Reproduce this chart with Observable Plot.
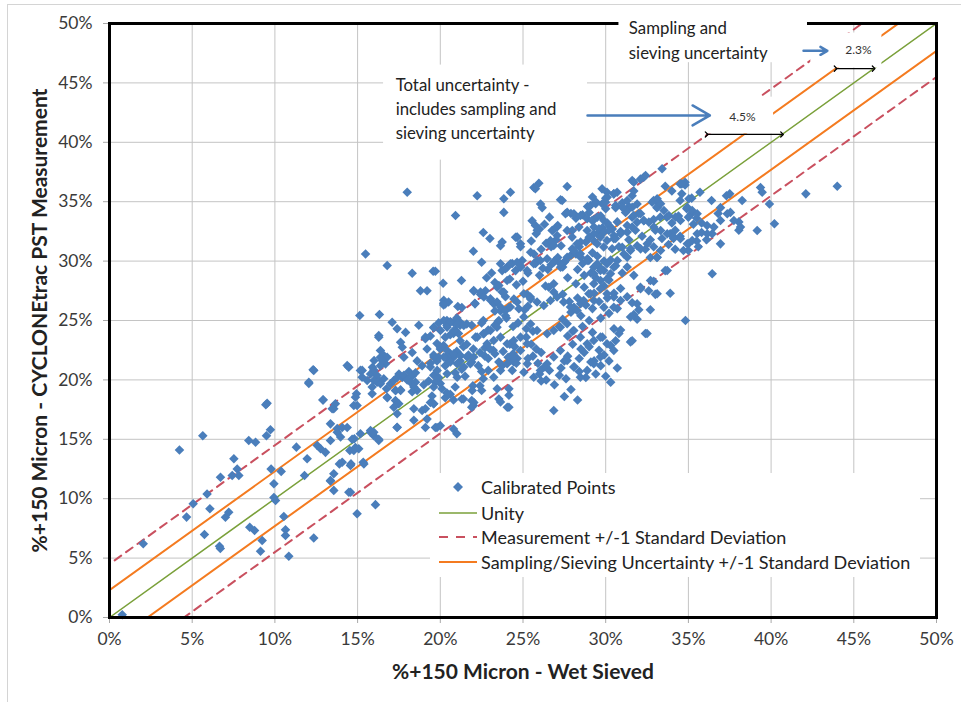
<!DOCTYPE html>
<html><head><meta charset="utf-8">
<script src="https://cdn.jsdelivr.net/npm/d3@7"></script>
<script src="https://cdn.jsdelivr.net/npm/@observablehq/plot@0.6"></script>
<style>
html,body{margin:0;padding:0;background:#fff;}
#wrap{position:relative;width:961px;height:702px;background:#fff;font-family:Lato,sans-serif;overflow:hidden;}
#border{position:absolute;left:7px;top:4px;right:-2px;bottom:-2px;border-left:1px solid #d4d4d4;border-top:1px solid #d4d4d4;pointer-events:none;z-index:3;}
#legend{position:absolute;left:430px;top:473px;width:490px;height:104px;background:#fff;z-index:2;}
.lrow{position:absolute;left:0;height:24px;width:490px;}
.lrow svg{position:absolute;left:8px;top:0;}
.lrow span{position:absolute;left:51px;top:0px;font-size:18px;color:#222;line-height:24px;white-space:nowrap;}
</style></head>
<body><div id="wrap"><div id="border"></div><div id="chart"></div>
<div id="legend">
 <div class="lrow" style="top:2px"><svg width="40" height="24"><path d="M20,7L25,12L20,17L15,12Z" fill="#4A7EBB"/></svg><span>Calibrated Points</span></div>
 <div class="lrow" style="top:28px"><svg width="40" height="24"><line x1="1" x2="39" y1="12" y2="12" stroke="#7AA03A" stroke-width="1.6"/></svg><span>Unity</span></div>
 <div class="lrow" style="top:52px"><svg width="40" height="24"><line x1="1" x2="39" y1="12" y2="12" stroke="#C9505F" stroke-width="2" stroke-dasharray="9,8"/></svg><span>Measurement +/-1 Standard Deviation</span></div>
 <div class="lrow" style="top:77px"><svg width="40" height="24"><line x1="1" x2="39" y1="12" y2="12" stroke="#F47B20" stroke-width="2"/></svg><span>Sampling/Sieving Uncertainty +/-1 Standard Deviation</span></div>
</div>
</div>
<script>
// ---- data ----
const axisTicks = [0,5,10,15,20,25,30,35,40,45,50];
const measurementSD = 4.5;   // %
const samplingSD = 2.3;      // %
const xTitle = "%+150 Micron - Wet Sieved";
const yTitle = "%+150 Micron - CYCLONEtrac PST Measurement";

// [wet sieved %, CYCLONEtrac %]
const calibratedPoints = [
[0.77,0.23],[2.04,6.2],[4.23,14.1],[5.64,15.3],[4.66,8.45],[5.06,9.57],[5.9,10.4],[6.07,9.15],[5.74,6.99],[6.65,6.0],[6.7,5.8],[6.71,11.8],[7.52,13.36],[7.72,12.5],[7.42,11.95],[7.82,11.95],[7.01,8.44],[7.21,8.86],[8.42,14.9],[8.83,14.76],[9.53,18.04],[9.45,17.9],[9.49,15.3],[9.73,15.8],[8.48,7.6],[8.77,7.32],[9.23,6.48],[9.13,5.58],[9.77,12.5],[9.94,11.25],[9.94,10.1],[10.04,9.85],[10.38,12.3],[10.54,8.5],[10.64,7.38],[10.64,6.9],[10.84,5.16],[11.3,14.34],[11.95,13.36],[11.79,11.95],[12.35,6.7],[12.05,19.7],[12.9,18.3],[12.35,20.8],[12.56,14.48],[12.76,14.2],[13.06,13.9],[13.56,17.57],[13.66,18.0],[13.36,16.3],[13.77,15.9],[13.36,14.9],[13.36,11.5],[13.56,10.7],
[14.07,16.0],[14.37,16.0],[13.77,15.6],[13.97,15.2],[14.47,21.07],[14.77,17.85],[14.53,14.06],[14.77,14.06],[15.07,14.2],[14.07,13.07],[14.57,12.8],[14.47,10.55],[14.97,8.73],[14.8,15.04],[15.34,13.07],[14.93,18.83],[15.28,20.8],[15.78,20.5],[15.58,19.95],[15.88,18.83],[15.78,15.6],[15.98,15.3],[16.28,14.9],[16.08,9.5],[16.38,21.9],[16.69,21.35],[16.18,20.1],[16.58,20.1],[16.79,18.54],[14.37,21.21],[15.17,20.8],[15.27,20.23],[12.31,20.85],[12.05,19.8],[12.92,18.32],[13.46,17.57],[14.67,15.0],[14.87,14.3],[15.17,15.46],[15.78,15.74],[15.98,15.6],[16.28,15.0],[13.9,12.93],[14.6,12.93],[15.38,12.93],[13.56,12.1],[13.36,11.53],[14.57,10.54],[14.87,18.55],[14.97,17.85],[15.98,20.84],[16.18,20.37],[16.38,21.2],[15.98,19.95],[16.18,19.8],[15.88,19.4],[16.38,19.67],[16.75,19.25],[16.99,19.67],[17.19,19.95],[16.38,22.47],[16.59,22.05],[16.79,21.91],[16.49,21.63],[16.0,21.63],[15.9,21.07],[16.28,23.74],[16.28,23.6],[15.13,25.42],[16.32,25.5],[17.09,24.86],[17.39,24.3],[17.9,24.0],[17.6,23.17],[17.7,22.75],[15.48,30.6],[16.79,29.63],[16.8,18.5],[17.29,18.27],[17.49,17.99],[17.19,17.7],[17.39,16.02],[17.39,17.15],[17.39,16.0],
[18.0,35.8],[18.3,28.98],[18.8,27.5],[19.2,27.5],[19.57,29.15],[19.7,29.15],[20.17,28.14],[21.28,28.37],[20.2,26.46],[21.06,26.18],[22.09,26.46],[19.1,23.46],[19.6,24.4],[20.4,25.0],[20.8,24.86],[21.2,24.86],[21.6,24.7],[20.8,23.9],[21.2,23.3],[22.13,23.6],[19.8,23.06],[17.8,21.9],[17.39,20.2],[17.7,20.2],[17.3,19.1],[17.6,19.1],[17.5,20.5],[17.8,20.4],[18.1,20.7],[18.3,20.3],[18.5,20.6],[18.2,19.8],[18.0,20.0],[18.5,19.8],[17.29,19.1],[17.6,19.16],[18.4,19.4],[18.6,19.1],[18.3,19.0],[18.4,17.57],[18.9,17.43],[18.4,16.6],[19.1,16.0],[19.8,16.0],[20.0,16.15],[19.1,17.57],[19.2,16.7],[19.6,18.0],[19.7,16.0],[21.0,15.46],[21.3,18.4],[21.9,18.27],[22.0,17.85],[20.8,15.87],[19.0,19.6],[19.3,19.9],[19.7,19.8],[19.6,19.4],[20.0,19.7],[19.5,18.65],[19.4,18.1],[19.6,17.99],[20.3,18.5],[20.4,18.9],[20.1,19.25],[21.4,18.4],[21.9,17.7],[22.6,20.09],[22.9,20.8],[22.4,19.5],[19.6,20.4],[19.9,20.2],[20.3,21.2],[20.5,21.6],[20.8,21.9],[20.6,22.2],[21.0,22.4],[21.2,21.6],[20.4,22.0],[21.4,22.8],[21.7,22.1],[21.9,21.5],[21.6,23.0],[22.0,22.6],[20.3,26.4],[21.3,26.1],[22.1,26.4],[20.4,24.6],[20.6,24.9],[21.0,25.2],[21.2,24.6],[20.9,24.2],[20.6,23.8],[21.1,23.9],[20.3,23.6],[21.9,24.6],[22.6,25.0],[22.6,23.88],[22.7,22.7],[23.2,22.5],[22.5,19.1],[21.97,19.5],[20.21,26.7],[20.5,26.55],[20.2,26.3],[19.4,21.4],[19.6,22.1],[19.8,21.6],[20.0,22.6],[20.2,22.9],[19.9,21.9],[20.6,18.8],[20.8,18.3],[20.9,19.4],[21.93,19.1],[22.03,18.1],[18.9,21.2],[18.6,21.6],[19.2,22.6],[18.3,22.3],[19.4,23.7],[18.7,24.6],[19.9,24.8],[21.5,20.3],[20.9,20.6],[21.3,20.9],[20.92,33.84],[22.0,30.83],[22.23,35.5],[22.03,27.47],
[23.74,31.6],[23.64,31.3],[24.65,32.0],[23.74,29.2],[24.05,29.5],[24.35,29.8],[24.55,29.2],[24.85,29.6],[25.46,30.75],[25.66,30.6],[25.76,29.8],[25.86,30.05],[25.5,31.7],[25.8,32.3],[26.0,32.7],[26.3,33.1],[26.5,29.3],[26.7,29.7],[26.9,30.0],[27.1,30.3],[27.4,29.5],[26.36,27.9],[26.56,27.8],[26.86,28.1],[26.86,27.4],[25.25,27.2],[25.46,26.8],[23.44,27.8],[23.74,27.4],[23.94,27.0],[22.43,27.2],[22.73,27.5],[23.04,26.7],[23.24,26.4],[23.64,25.8],[24.15,26.1],[23.94,25.4],[23.54,25.0],[24.45,26.8],[24.75,25.99],[25.05,25.3],[25.46,24.7],[25.2,24.3],[25.6,24.1],[23.54,21.5],[23.74,21.2],[24.45,21.5],[24.65,21.8],[24.25,21.63],[25.05,20.65],[25.26,21.35],[24.35,20.8],[23.54,18.4],[24.15,18.7],[24.15,17.7],[22.4,22.3],[22.7,22.0],[23.0,22.6],[23.3,22.2],[22.9,21.8],[23.8,22.4],[24.1,21.9],[24.4,22.2],[24.6,21.4],[24.2,23.0],[24.5,22.8],[25.2,23.6],[25.5,23.0],[25.8,22.6],[26.1,22.3],[25.6,22.0],[25.3,21.8],[25.9,21.4],[26.3,21.1],[26.6,20.8],[26.0,20.5],[26.4,20.0],[26.9,19.6],[26.1,19.9],[27.2,20.4],[27.3,21.0],[26.86,17.42],[23.64,18.15],[24.05,17.7],[23.44,19.25],[24.15,19.25],[23.3,24.6],[23.5,24.9],[24.0,25.2],[24.4,24.5],[24.7,24.8],[25.1,25.9],[25.3,26.2],[23.84,35.24],[24.24,35.8],[23.84,34.1],[25.66,36.2],[25.96,36.56],[25.75,36.1],[27.67,36.28],[27.27,35.16],[26.06,34.8],[26.16,34.5],[25.55,33.4],[25.75,33.0],[25.86,32.6],[24.85,31.2],[24.95,30.05],[24.55,32.0],[22.8,28.6],[23.1,29.0],[22.5,29.9],[23.3,28.2],[23.0,31.9],[22.6,32.4],[24.2,28.5],[24.6,28.0],[25.0,28.3],[25.3,29.0],[26.0,28.8],[26.2,29.4],[26.4,31.5],[26.7,31.2],[26.1,31.0],[27.0,31.8],[27.3,31.3],[26.8,32.6],[27.1,33.0],[26.6,33.7],[27.9,34.0],[27.06,32.15],[26.76,32.58],[23.3,25.8],[22.9,24.2],[22.5,24.8],[22.3,21.2],[22.5,20.7],
[28.1,21.1],[28.4,21.8],[28.7,22.3],[29.0,22.8],[29.3,21.6],[29.6,22.5],[29.9,22.1],[30.3,22.9],[30.6,23.3],[30.2,21.6],[29.7,21.2],[29.1,21.5],[28.5,22.6],[28.0,23.0],[27.7,22.0],[27.5,21.6],[28.4,20.7],[28.8,20.2],[29.4,20.5],[30.0,20.3],[30.7,21.0],[30.3,19.8],[27.9,19.2],[27.5,18.6],[28.3,18.3],[27.6,20.1],[28.0,24.1],[28.6,24.5],[29.2,24.0],[29.8,23.6],[30.5,24.3],[30.9,24.2],[30.8,23.9],[31.5,23.2],[31.6,23.3],[32.4,23.9],[32.0,25.9],[31.7,25.5],[31.9,25.1],[31.5,25.3],[32.7,25.9],[32.6,27.5],[32.1,27.8],[33.0,27.2],[32.5,23.9],[28.4,31.2],[28.8,31.6],[29.0,32.0],[29.3,31.7],[29.5,32.3],[29.8,32.8],[30.1,33.2],[30.4,32.7],[30.6,31.9],[30.9,32.5],[30.7,33.3],[30.2,33.0],[28.3,29.3],[28.6,29.8],[28.9,30.2],[29.1,29.0],[29.4,28.6],[29.7,29.4],[29.9,30.0],[29.5,30.4],[29.2,30.7],[28.7,28.8],[28.2,33.6],[28.6,33.9],[29.0,34.1],[29.3,33.5],[29.7,33.8],[30.0,34.4],[28.9,34.6],[29.4,35.0],[29.78,36.08],[30.08,35.8],[30.49,35.66],[30.69,35.8],[29.2,35.4],[30.0,35.3],[31.6,35.5],[31.7,35.9],[31.7,36.64],[32.3,37.06],[32.1,36.9],[30.6,34.5],[31.0,34.9],[31.4,34.6],[31.9,34.8],[31.2,34.1],[31.6,33.7],[32.0,34.0],[32.3,33.4],[31.3,33.0],[31.8,32.6],[32.2,32.1],[31.4,31.8],[30.8,31.2],[31.1,30.6],[31.5,30.9],[31.9,31.3],[32.4,31.0],[32.7,30.3],[30.3,30.1],[30.6,29.6],[31.0,29.0],[31.3,29.5],[31.7,28.8],[30.2,28.4],[29.9,27.9],[29.3,27.3],[28.7,27.8],[28.2,28.1],[27.7,28.6],[27.5,29.9],[27.9,30.5],[28.2,30.6],[27.4,27.2],[27.8,26.6],[28.3,26.9],[28.8,26.3],[29.2,26.0],[29.6,26.6],[30.1,26.9],[30.5,27.3],[30.9,27.7],[31.3,27.0],[31.6,26.5],[30.7,26.0],[30.2,25.6],[29.7,25.2],[29.0,25.0],[28.5,25.4],[27.9,25.7],[27.4,25.1],[27.2,24.5],[27.7,23.7],[32.9,28.3],[33.1,30.3],[33.6,29.2],[32.9,35.1],[33.1,34.5],[33.3,33.7],[32.9,33.5],[33.2,34.9],[33.41,37.77],[32.7,31.8],[32.9,31.2],[33.0,32.6],[33.4,31.9],[33.8,31.4],[34.2,31.0],
[34.5,36.5],[34.8,36.64],[34.8,36.4],[34.6,36.5],[34.6,35.66],[35.7,35.8],[36.4,35.1],[37.3,35.5],[37.5,35.66],[39.36,36.2],[39.46,35.8],[39.9,34.8],[42.1,35.66],[44.0,36.3],[40.2,33.14],[39.16,32.58],[38.05,33.3],[38.05,32.6],[36.94,34.5],[36.8,34.0],[37.54,34.1],[36.94,31.45],[36.44,28.93],[34.82,25.0],[33.9,27.3],[36.44,32.3],[36.13,33.0],[35.0,31.45],[34.7,30.9],[35.0,30.9],[35.5,31.7],[33.7,33.7],[34.0,33.2],[34.2,32.6],[33.9,32.3],[34.5,32.1],[34.1,31.9],[34.9,34.4],[35.2,34.0],[35.5,33.6],[35.8,33.2],[35.3,33.1],[35.0,33.7],[35.8,32.4],[35.6,31.2],[36.1,31.8],[34.4,33.8],[34.5,35.1],[35.2,35.3],[34.0,35.9],[33.6,36.3],
[31.6,36.79],[32.41,37.21],[38.25,35.1],[27.37,35.1],[27.57,33.98],[27.98,32.58],[28.38,32.86],[28.48,31.6],[29.08,34.68],[29.39,34.82],[29.79,34.82],[30.09,35.38],[29.99,34.96],[27.67,34.12],[28.08,33.98],[28.48,33.84],[28.88,33.56],[29.18,33.42],[29.49,33.7],[29.89,33.42],[29.29,32.86],[29.59,32.72],[29.89,32.44],[30.19,32.58],[30.49,32.16],[30.9,32.3],[31.3,32.44],[31.6,32.86],[31.9,33.28],[31.7,33.84],[31.3,34.26],[31.0,34.54],[30.6,34.68],[30.49,35.66],[31.3,35.1],[31.6,34.54],[32.11,33.98],[32.31,33.42],[32.61,33.28],[32.91,32.86],[33.32,32.58],[33.72,32.3],[34.12,32.02],[34.52,31.88],[34.93,31.46],[35.23,31.74],[35.53,32.3],[36.14,32.3],[36.54,32.86],[36.94,33.42],[37.35,33.98],[37.75,33.42],[38.15,32.86],[32.81,34.96],[33.11,34.54],[33.32,34.82],[33.52,34.26],[33.11,35.24],[33.82,33.84],[34.22,33.7],[34.52,33.42],[34.93,34.54],[35.23,34.26],[35.53,33.98],[35.03,35.24],
[27.98,31.03],[28.48,30.33],[28.98,30.05],[29.49,29.77],[29.89,29.21],[30.29,28.93],[29.29,28.93],[29.69,28.37],[28.98,27.25],[29.29,26.69],[30.09,28.51],[30.7,30.05],[31.3,30.33],[31.0,31.17],[31.5,31.03],[32.11,31.03],[32.51,31.46],[33.11,30.33],[33.32,30.89],[33.72,29.21],[32.71,28.37],[32.11,27.67],[33.11,27.25],[31.9,26.41],[30.9,26.69],[30.49,26.12],[29.89,26.12],[28.48,26.41],[28.08,26.12],[27.57,30.05],[27.27,29.49],
[24.64,32.02],[24.85,31.46],[26.66,31.74],[26.86,31.32],[27.06,32.88],[27.67,32.58],[27.97,32.02],[28.27,31.46],[28.88,32.58],[29.28,32.3],[29.68,32.02],[30.08,31.74],[30.49,31.88],[29.48,31.46],[29.88,31.18],[30.39,31.04],
[23.64,29.77],[23.94,29.35],[24.24,29.77],[24.64,29.91],[24.85,29.49],[25.25,29.21],[25.65,29.77],[26.05,30.05],[26.46,30.19],[26.86,29.91],[27.26,29.77],[27.67,30.33],[28.07,30.9],[28.47,30.62],[28.88,30.05],[29.28,29.49],[29.68,29.21],[30.08,29.77],[30.49,29.49],[24.04,28.37],[23.54,27.95],[23.84,27.39],
[22.02,27.53],[22.43,27.39],[22.63,26.97],[23.03,26.83],[23.43,26.55],[23.64,26.13],[23.94,25.85],[24.24,26.13],[24.64,26.55],[25.05,27.25],[25.45,26.97],[25.85,26.55],[26.26,26.27],[26.66,26.69],[27.06,26.97],[27.46,26.55],[27.87,26.13],[28.27,25.85],[28.67,26.69],[29.08,27.25],[29.28,28.09],[29.68,27.67],[30.08,27.25],[30.49,26.97],
[20.21,25.0],[20.61,24.86],[21.02,24.72],[21.42,24.58],[20.82,24.16],[20.41,24.44],[20.01,24.16],[19.61,24.44],[19.1,23.6],
[20.01,22.76],[20.41,22.48],[20.82,22.2],[21.22,22.06],[21.62,21.92],[20.21,21.92],[20.61,21.5],[21.02,21.36],[21.42,21.08],[21.82,21.36],[22.02,21.92],[19.61,21.92],[19.4,21.08],[19.81,20.8],[20.41,20.52],[21.02,20.23],
[22.23,23.6],[22.63,23.88],[23.03,24.16],[23.43,24.44],[22.83,23.04],[23.23,23.32],[23.64,23.6],[24.04,23.04],[24.44,23.32],[24.85,23.6],[25.25,23.04],[24.85,22.48],[24.44,21.92],[24.04,21.36],[23.64,20.8],[23.23,20.23],
[25.85,24.16],[26.46,23.88],[26.86,24.16],[27.26,24.44],[27.67,24.72],[28.07,24.16],[28.47,23.6],[28.88,23.04],[29.28,23.32],[29.68,23.6],[30.08,23.04],[30.49,22.48],[29.68,21.92],[29.28,21.36],[28.88,20.8],[28.47,20.23],[28.07,21.08],[27.67,21.64],[27.26,22.48],[26.86,21.92],[26.46,21.36],[26.05,20.8],[25.65,20.23]
];

// annotation text boxes (data units, %)
const annotationBoxes = [
  {x1:16.57, x2:28.9, y1:38.5, y2:46.5},
  {x1:30.8, x2:42.2, y1:46.7, y2:52},
  {x1:36.1, x2:40.15, y1:40.7, y2:43.8},
  {x1:42.4, x2:46.7, y1:46.25, y2:49.2}
];
const annotationTexts = [
  {x:17.3, y:44.78, text:"Total uncertainty -"},
  {x:17.3, y:42.76, text:"includes sampling and"},
  {x:17.3, y:40.74, text:"sieving uncertainty"},
  {x:31.4, y:49.55, text:"Sampling and"},
  {x:31.4, y:47.45, text:"sieving uncertainty"}
];
const widthLabels = [
  {x:38.27, y:42.1, text:"4.5%"},
  {x:45.28, y:47.75, text:"2.3%"}
];
const blueArrows = [
  {x1:28.9, x2:36.3, y1:42.26, y2:42.26},
  {x1:41.96, x2:43.4, y1:47.7, y2:47.7}
];
const spanArrows = [
  {x1:36.1, x2:40.66, y:40.66},
  {x1:43.9, x2:46.2, y:46.2}
];

// reference lines y = x + offset
const refLines = [
  {name:"Unity", offset:0, stroke:"#7AA03A", width:1.5, dash:null},
  {name:"Sampling +", offset:samplingSD, stroke:"#F47B20", width:2, dash:null},
  {name:"Sampling -", offset:-samplingSD, stroke:"#F47B20", width:2, dash:null},
  {name:"Measurement +", offset:measurementSD, stroke:"#C9505F", width:2, dash:"8,6"},
  {name:"Measurement -", offset:-measurementSD, stroke:"#C9505F", width:2, dash:"8,6"}
];
const lineSpan = [0, 50];

const lineMarks = refLines.map(l => Plot.line(
  [lineSpan[0] - Math.abs(l.offset), lineSpan[1] + Math.abs(l.offset)].map(x => ({x, y: x + l.offset})),
  {x:"x", y:"y", stroke:l.stroke, strokeWidth:l.width, strokeDasharray:l.dash || undefined, clip:true}
));

const chart = Plot.plot({
  width:961, height:702,
  marginLeft:109, marginRight:25, marginTop:23, marginBottom:85,
  x:{domain:[0,50]}, y:{domain:[0,50]},
  style:{fontFamily:"Lato, sans-serif", background:"transparent", overflow:"visible"},
  marks:[
    Plot.gridX(axisTicks, {stroke:"#c4c4c4", strokeOpacity:1, strokeWidth:1}),
    Plot.gridY(axisTicks, {stroke:"#c4c4c4", strokeOpacity:1, strokeWidth:1}),
    Plot.axisX(axisTicks, {tickFormat:d=>d+"%", tickSize:6, tickPadding:9, fontSize:17.5, fill:"#3a3a3a", stroke:"#a8a8a8", label:null}),
    Plot.axisY(axisTicks, {tickFormat:d=>d+"%", tickSize:6, tickPadding:11, fontSize:17.5, fill:"#3a3a3a", stroke:"#a8a8a8", label:null}),
    ...lineMarks,
    Plot.dot(calibratedPoints, {x:d=>d[0], y:d=>d[1], symbol:"diamond2", r:4.3, fill:"#4A7EBB", stroke:"none"}),
    Plot.frame({stroke:"#000", strokeWidth:3}),
    Plot.rect(annotationBoxes, {x1:"x1", x2:"x2", y1:"y1", y2:"y2", fill:"#fff"}),
    Plot.text(annotationTexts, {x:"x", y:"y", text:"text", textAnchor:"start", fontSize:16.8, fill:"#222"}),
    Plot.text(widthLabels, {x:"x", y:"y", text:"text", fontSize:12, fill:"#333"}),
    Plot.arrow(blueArrows, {x1:"x1", y1:"y1", x2:"x2", y2:"y2", stroke:"#4A7EBB", strokeWidth:2.5, headLength:12}),
    Plot.link(spanArrows, {x1:"x1", x2:"x2", y1:"y", y2:"y", stroke:"#000", strokeWidth:1.3, markerStart:"arrow", markerEnd:"arrow"}),
    Plot.text([xTitle], {frameAnchor:"bottom", text:d=>d, dy:55, lineAnchor:"middle", textAnchor:"middle", fontSize:21, fontWeight:"bold", fill:"#222"}),
    Plot.text([yTitle], {frameAnchor:"left", text:d=>d, dx:-69, rotate:-90, lineAnchor:"middle", textAnchor:"middle", fontSize:21, fontWeight:"bold", fill:"#222"})
  ]
});
document.getElementById("chart").appendChild(chart);
</script>
</body></html>
